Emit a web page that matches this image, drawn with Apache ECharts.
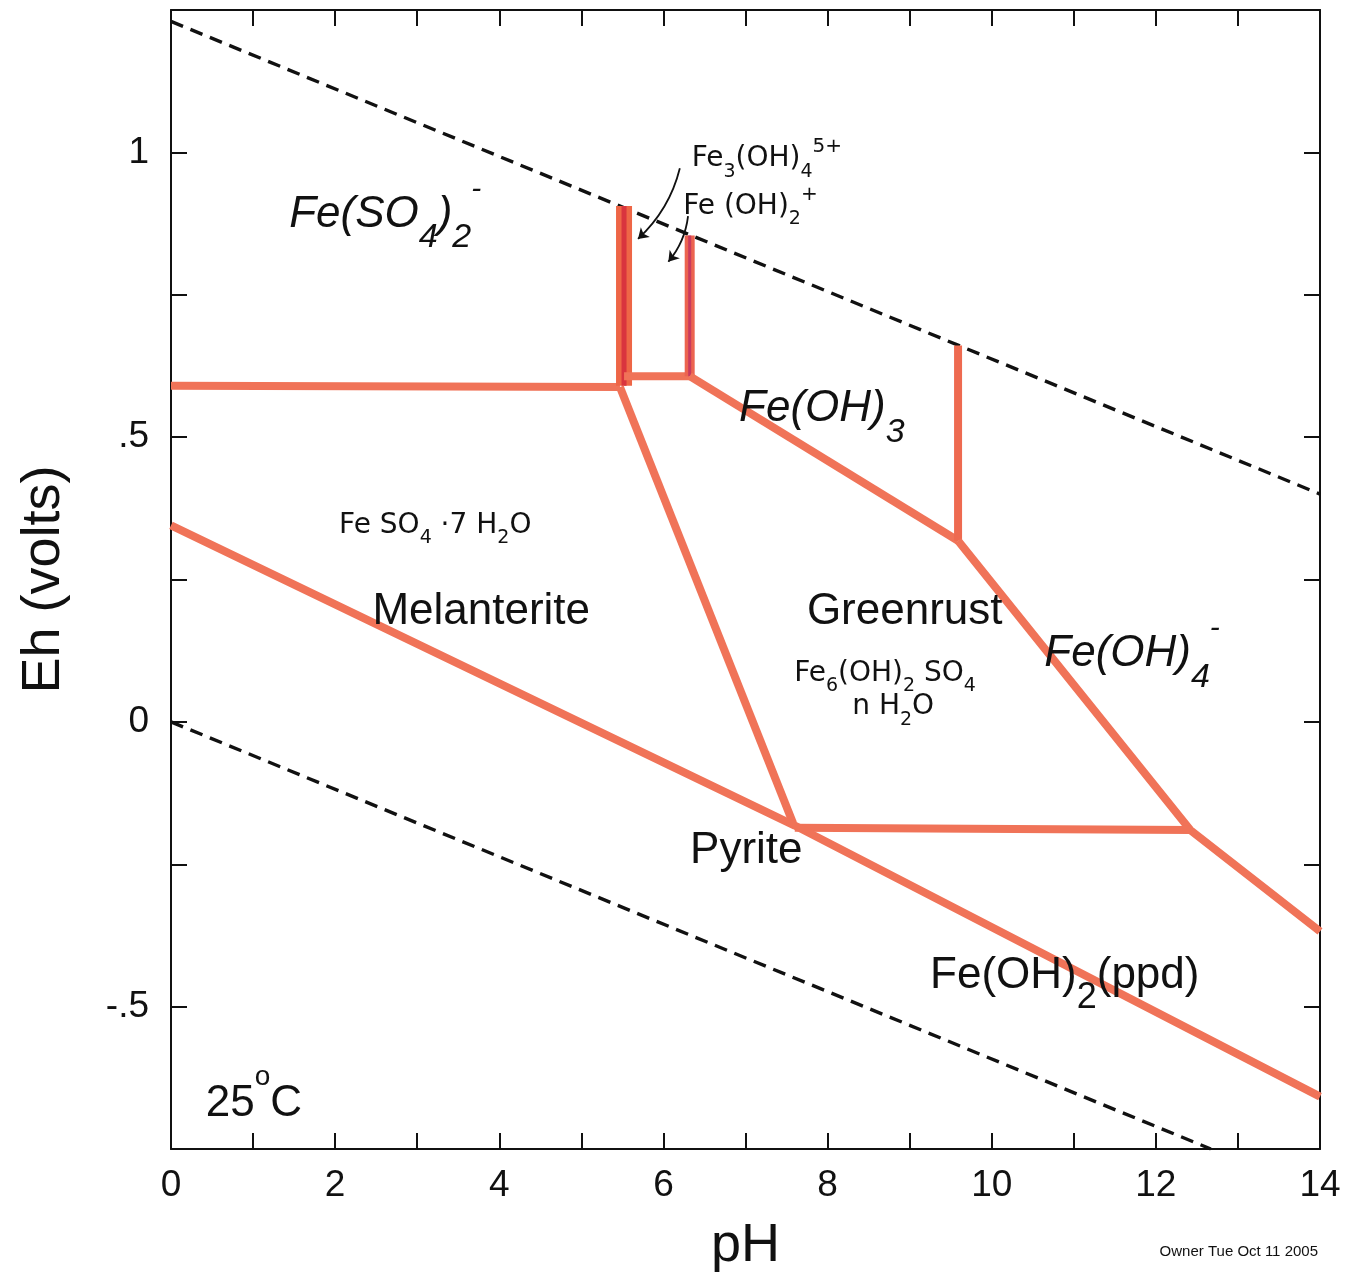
<!DOCTYPE html>
<html>
<head>
<meta charset="utf-8">
<script src="https://cdn.jsdelivr.net/npm/echarts@6/dist/echarts.min.js"></script>
<style>
html,body{margin:0;padding:0;background:#fff;}
#chart{width:1347px;height:1278px;}
</style>
</head>
<body>
<div id="chart"></div>
<script>
// ---------- data (pH, Eh in volts) ----------
const xTicks = [0, 2, 4, 6, 8, 10, 12, 14];
const yTickLabels = {"1": "1", "0.5": ".5", "0": "0", "-0.5": "-.5"};

const waterUpper = [[0, 1.230], [14, 0.400]];
const waterLower = [[0, 0.000], [12.67, -0.750]];

const bMelanteriteTop = [[0, 0.590], [5.47, 0.588]];
const bFe3OH4Left = [[5.52, 0.590], [5.52, 0.906]];
const bFe3OH4Base = [[5.52, 0.607], [6.32, 0.607]];
const bFeOH2plus = [[6.32, 0.607], [6.32, 0.854]];
const bFeOH3Lower = [[6.32, 0.607], [9.59, 0.318]];
const bFeOH3FeOH4 = [[9.59, 0.318], [9.59, 0.661]];
const bGreenrustRight = [[9.59, 0.318], [12.42, -0.190], [14, -0.368]];
const bGreenrustBottom = [[7.60, -0.186], [12.42, -0.190]];
const bMelanteriteGreenrust = [[5.47, 0.588], [7.58, -0.178]];
const bPyriteTop = [[0, 0.345], [7.60, -0.182], [14, -0.658]];

const regionLabels = [
  [2.61, 0.891, '{i|Fe(SO}{is|4}{i|)}{is|2}{ip|-}'],
  [7.93, 0.549, '{i|Fe(OH)}{is|3}'],
  [3.78, 0.193, '{n|Melanterite}'],
  [8.94, 0.193, '{n|Greenrust}'],
  [11.71, 0.119, '{i|Fe(OH)}{is|4}{ip|-}'],
  [7.01, -0.226, '{n|Pyrite}'],
  [10.89, -0.446, '{n|Fe(OH)}{ns|2}{n|(ppd)}'],
  [1.01, -0.670, '{n|25}{np|o}{n|C}']
];
const handLabels = [
  [3.22, 0.344, '{h|Fe SO}{hs|4}{h| ·7 H}{hs|2}{h|O}'],
  [8.70, 0.084, '{h|Fe}{hs|6}{h|(OH)}{hs|2}{h| SO}{hs|4}'],
  [8.80, 0.026, '{h|n H}{hs|2}{h|O}'],
  [7.26, 0.988, '{h|Fe}{hs|3}{h|(OH)}{hs|4}{hp|5+}'],
  [7.06, 0.905, '{h|Fe (OH)}{hs|2}{hp|+}']
];
const arrows = [
  [[6.20, 0.972], [5.69, 0.848]],
  [[6.30, 0.888], [6.06, 0.808]]
];

// ---------- chart ----------
const SANS = 'Liberation Sans, Arial, sans-serif';
const HAND = 'DejaVu Sans, sans-serif';
const INK = '#111';
const RED = '#F07358';
const chart = echarts.init(document.getElementById('chart'), null, {renderer: 'canvas'});

function boundary(data, width, color) {
  return {
    type: 'line', data: data, symbol: 'none', silent: true, animation: false,
    lineStyle: {color: color || RED, width: width || 8, cap: 'butt', join: 'round'},
    z: 3
  };
}
function dashed(data) {
  return {
    type: 'line', data: data, symbol: 'none', silent: true, animation: false,
    lineStyle: {color: '#111', width: 3.4, type: [13, 8]}, z: 2
  };
}

function tok(o) {
  return Object.assign({color: INK, textBorderWidth: 0, textShadowBlur: 0}, o);
}
const richMain = {
  n: tok({fontFamily: SANS, fontSize: 44, lineHeight: 80}),
  ns: tok({fontFamily: SANS, fontSize: 36, lineHeight: 30, verticalAlign: 'bottom'}),
  np: tok({fontFamily: SANS, fontSize: 28, lineHeight: 40, verticalAlign: 'top'}),
  i: tok({fontFamily: SANS, fontSize: 44, fontStyle: 'italic', lineHeight: 80}),
  is: tok({fontFamily: SANS, fontSize: 34, fontStyle: 'italic', lineHeight: 30, verticalAlign: 'bottom'}),
  ip: tok({fontFamily: SANS, fontSize: 30, fontStyle: 'italic', lineHeight: 30, verticalAlign: 'top'})
};
const richHand = {
  h: tok({fontFamily: HAND, fontSize: 28, lineHeight: 44}),
  hs: tok({fontFamily: HAND, fontSize: 19, lineHeight: 18, verticalAlign: 'bottom'}),
  hp: tok({fontFamily: HAND, fontSize: 20, lineHeight: 18, verticalAlign: 'top'})
};

function labelSeries(items, rich) {
  return {
    type: 'scatter', symbolSize: 0, silent: true, animation: false, z: 6,
    itemStyle: {color: 'transparent', opacity: 1},
    data: items.map(d => ({value: [d[0], d[1]], label: {formatter: d[2]}})),
    label: {
      show: true, position: 'inside', align: 'center', verticalAlign: 'middle', opacity: 1,
      color: INK, textBorderWidth: 0, textBorderColor: 'transparent', rich: rich
    }
  };
}

const tickStyle = {show: true, inside: true, length: 16, lineStyle: {color: '#111', width: 2}};
const lineStyleAxis = {show: true, onZero: false, lineStyle: {color: '#111', width: 2}};

const option = {
  backgroundColor: '#fff',
  animation: false,
  title: {
    text: 'Owner Tue Oct 11 2005', right: 24, bottom: 14,
    textStyle: {fontFamily: SANS, fontSize: 15, fontWeight: 'normal', color: '#111'}
  },
  grid: {left: 171, top: 10, right: 27, bottom: 128},
  xAxis: [
    {
      type: 'value', min: 0, max: 14, interval: 1, position: 'bottom',
      name: 'pH', nameLocation: 'middle', nameGap: 70,
      nameTextStyle: {fontFamily: SANS, fontSize: 54, color: '#111'},
      axisLine: lineStyleAxis, axisTick: tickStyle, splitLine: {show: false},
      axisLabel: {
        margin: 18, fontFamily: SANS, fontSize: 37, color: '#111',
        formatter: v => (xTicks.indexOf(v) >= 0 ? String(v) : '')
      }
    },
    {
      type: 'value', min: 0, max: 14, interval: 1, position: 'top',
      axisLine: lineStyleAxis, axisTick: tickStyle, splitLine: {show: false},
      axisLabel: {show: false}
    }
  ],
  yAxis: [
    {
      type: 'value', min: -0.75, max: 1.25, interval: 0.25, position: 'left',
      name: 'Eh (volts)', nameLocation: 'middle', nameGap: 100, nameRotate: 90,
      nameTextStyle: {fontFamily: SANS, fontSize: 54, color: '#111'},
      axisLine: lineStyleAxis, axisTick: tickStyle, splitLine: {show: false},
      axisLabel: {
        margin: 22, fontFamily: SANS, fontSize: 37, color: '#111',
        formatter: v => {
          const k = String(Math.round(v * 100) / 100);
          return yTickLabels[k] !== undefined ? yTickLabels[k] : '';
        }
      }
    },
    {
      type: 'value', min: -0.75, max: 1.25, interval: 0.25, position: 'right',
      axisLine: lineStyleAxis, axisTick: tickStyle, splitLine: {show: false},
      axisLabel: {show: false}
    }
  ],
  series: [
    dashed(waterUpper),
    dashed(waterLower),
    boundary(bMelanteriteTop),
    boundary(bFe3OH4Left, 16, '#EE6646'),
    boundary(bFe3OH4Left, 5, '#D9343E'),
    boundary(bFe3OH4Base),
    boundary(bFeOH2plus, 10, '#EC6450'),
    boundary(bFeOH2plus, 3, '#C93A5E'),
    boundary(bFeOH3Lower),
    boundary(bFeOH3FeOH4, 8, '#EE6A50'),
    boundary(bGreenrustRight),
    boundary(bGreenrustBottom),
    boundary(bMelanteriteGreenrust),
    boundary(bPyriteTop),
    {
      type: 'lines', coordinateSystem: 'cartesian2d', silent: true, animation: false, z: 5,
      symbol: ['none', 'arrow'], symbolSize: 10,
      lineStyle: {color: '#111', width: 1.8, opacity: 1, curveness: 0.15},
      data: arrows.map(a => ({coords: a}))
    },
    labelSeries(regionLabels, richMain),
    labelSeries(handLabels, richHand)
  ]
};
chart.setOption(option);
</script>
</body>
</html>
